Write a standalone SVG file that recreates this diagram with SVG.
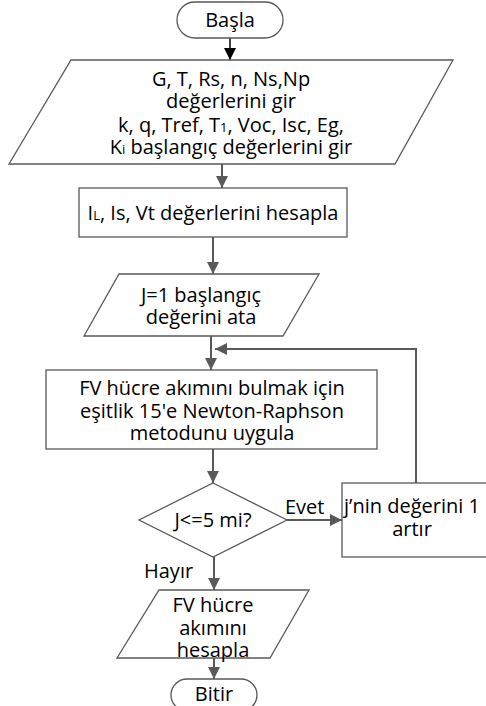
<svg xmlns="http://www.w3.org/2000/svg" width="486" height="706" viewBox="0 0 486 706">
<defs>
<marker id="ahg" viewBox="0 0 10 10" refX="10" refY="5" markerWidth="12" markerHeight="12" orient="auto" markerUnits="userSpaceOnUse">
<path d="M0,0 L10,5 L0,10 z" fill="#595959"/>
</marker>
<marker id="ahb" viewBox="0 0 10 10" refX="10" refY="5" markerWidth="12" markerHeight="12" orient="auto" markerUnits="userSpaceOnUse">
<path d="M0,0 L10,5 L0,10 z" fill="#000"/>
</marker>
</defs>
<style>
.shape{fill:#fff;stroke:#595959;stroke-width:1.3}
.t{font-family:"Open Sans","Noto Sans","Liberation Sans",sans-serif;font-size:20px;fill:#000;text-anchor:middle}
.lbl{font-family:"Open Sans","Noto Sans","Liberation Sans",sans-serif;font-size:20px;fill:#000}
.sub{font-size:13px}
.c{fill:none;stroke:#595959;stroke-width:2}
</style>
<rect width="486" height="706" fill="#fff"/>
<g id="connectors">
<line x1="230" y1="38" x2="230" y2="60" stroke="#000" stroke-width="1.5" marker-end="url(#ahb)"/>
<line class="c" x1="222" y1="164" x2="222" y2="188" marker-end="url(#ahg)"/>
<line class="c" x1="213" y1="237" x2="213" y2="274" marker-end="url(#ahg)"/>
<line class="c" x1="211" y1="336" x2="211" y2="370" marker-end="url(#ahg)"/>
<polyline class="c" points="416,483 416,349 215,349" marker-end="url(#ahg)"/>
<line class="c" x1="213" y1="449" x2="213" y2="483" marker-end="url(#ahg)"/>
<line class="c" x1="287" y1="520" x2="342" y2="520" marker-end="url(#ahg)"/>
<line class="c" x1="214" y1="557" x2="214" y2="590" marker-end="url(#ahg)"/>
<line class="c" x1="214" y1="658" x2="214" y2="679" marker-end="url(#ahg)"/>
<text class="lbl" x="285" y="514">Evet</text>
<text class="lbl" x="144" y="578">Hayır</text>
</g>
<g id="start">
<rect class="shape" x="177" y="2" width="106" height="36" rx="18"/>
<text class="t" x="230" y="27">Başla</text>
</g>
<g id="input1">
<polygon class="shape" points="71,60 453,60 395,164 9,164"/>
<text class="t"><tspan x="231" y="86">G, T, Rs, n, Ns,Np</tspan><tspan x="231" y="108">değerlerini gir</tspan><tspan x="231" y="132">k, q, Tref, T<tspan class="sub">1</tspan>, Voc, Isc, Eg,</tspan><tspan x="231" y="154">K<tspan class="sub">i</tspan> başlangıç değerlerini gir</tspan></text>
</g>
<g id="calc1">
<rect class="shape" x="79" y="188" width="268" height="49"/>
<text class="t" x="213" y="220">I<tspan class="sub">L</tspan>, Is, Vt değerlerini hesapla</text>
</g>
<g id="init">
<polygon class="shape" points="119,274 319,274 283,336 84,336"/>
<text class="t"><tspan x="201" y="302">J=1 başlangıç</tspan><tspan x="201" y="324">değerini ata</tspan></text>
</g>
<g id="newton">
<rect class="shape" x="46" y="370" width="331" height="79"/>
<text class="t"><tspan x="212" y="395">FV hücre akımını bulmak için</tspan><tspan x="212" y="418">eşitlik 15'e Newton-Raphson</tspan><tspan x="212" y="440">metodunu uygula</tspan></text>
</g>
<g id="decision">
<polygon class="shape" points="213,483 287,520 213,557 139,520"/>
<text class="t" x="213" y="527">J&lt;=5 mi?</text>
</g>
<g id="increment">
<rect class="shape" x="342" y="483" width="146" height="74"/>
<text class="t"><tspan x="412" y="513">j’nin değerini 1</tspan><tspan x="412" y="536">artır</tspan></text>
</g>
<g id="output">
<polygon class="shape" points="159,590 309,590 270,658 117,658"/>
<text class="t"><tspan x="213" y="612">FV hücre</tspan><tspan x="213" y="635">akımını</tspan><tspan x="213" y="657">hesapla</tspan></text>
</g>
<g id="end">
<rect class="shape" x="171" y="679" width="86" height="32" rx="16"/>
<text class="t" x="214" y="701">Bitir</text>
</g>
</svg>
